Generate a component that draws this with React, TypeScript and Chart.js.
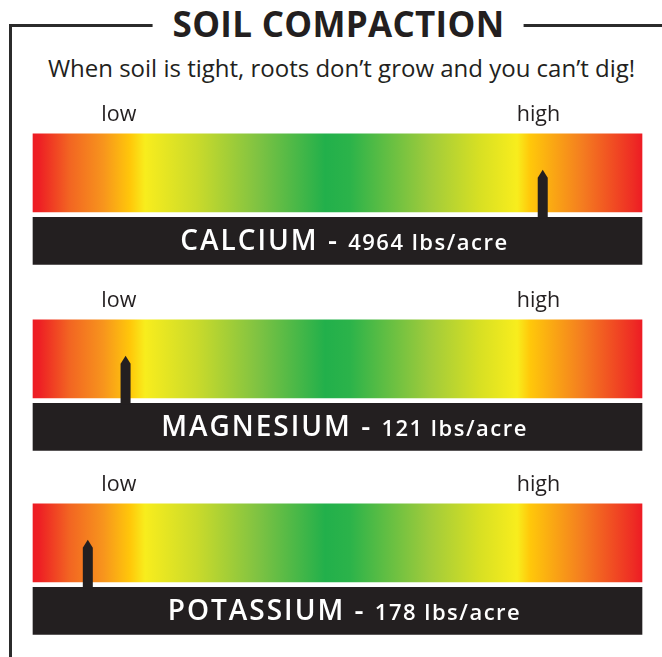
import React, { useEffect, useRef } from "react";
import { Chart, registerables } from "chart.js";

Chart.register(...registerables);

// ---------- data ----------
const TITLE = "SOIL COMPACTION";
const SUBTITLE = "When soil is tight, roots don’t grow and you can’t dig!";
const NUTRIENTS = ["CALCIUM", "MAGNESIUM", "POTASSIUM"];
const AMOUNTS = [4964, 121, 178];
const UNIT = "lbs/acre";
// marker position of each nutrient on the 0–100 gauge
const MARKER_POS = [83.7, 15.2, 9.0];
const SCALE_RANGE = [0, 100];
const TICK_VALUES = [14.1, 83.0];
const TICK_LABELS = ["low", "high"];
const GRADIENT_OFFSETS = [0, 0.012, 0.06, 0.115, 0.16, 0.184, 0.27, 0.368, 0.48, 0.52, 0.65, 0.734, 0.795, 0.816, 0.903, 0.985, 1];
const GRADIENT_COLORS = [
  "#ED1C24", "#EE2224", "#F26522", "#F7941D", "#FFC80A", "#F8ED1D", "#C9DA2B", "#80C342",
  "#22B04B", "#2BB34A", "#9FCB3B", "#D8E023", "#F8ED1D", "#FFC80A", "#F47C20", "#EE2D24", "#ED1C24",
];

const DARK = "#231F20";
const FONT = '"Open Sans", sans-serif';

const gaugePlugin = {
  id: "gaugeMarks",
  afterDatasetsDraw(chart: any, _args: any, opts: any) {
    const ctx = chart.ctx;
    const xs = chart.scales.x;
    const grad = chart.getDatasetMeta(0).data[0] as any;
    const band = chart.getDatasetMeta(1).data[1] as any;
    if (!grad || !band) return;
    const gradTop = grad.y - grad.height / 2;
    const bandTop = band.y - band.height / 2;
    const px = xs.getPixelForValue(opts.value);
    const tip = gradTop + 36;
    const shoulder = tip + 8;
    ctx.save();
    ctx.fillStyle = DARK;
    ctx.beginPath();
    ctx.moveTo(px - 5, bandTop + 1);
    ctx.lineTo(px - 5, shoulder);
    ctx.lineTo(px, tip);
    ctx.lineTo(px + 5, shoulder);
    ctx.lineTo(px + 5, bandTop + 1);
    ctx.closePath();
    ctx.fill();

    // band label
    const name = opts.name + " - ";
    const rest = opts.amount + " " + opts.unit;
    const f1 = `600 28px ${FONT}`;
    const f2 = `600 22px ${FONT}`;
    const ls1 = "2px";
    const ls2 = "1.5px";
    ctx.font = f1;
    ctx.letterSpacing = ls1;
    const w1 = ctx.measureText(name).width;
    ctx.font = f2;
    ctx.letterSpacing = ls2;
    const w2 = ctx.measureText(rest).width;
    const cx = (chart.chartArea.left + chart.chartArea.right) / 2 + 7;
    const start = cx - (w1 + w2) / 2;
    const base = band.y + 9;
    ctx.fillStyle = "#FFFFFF";
    ctx.textBaseline = "alphabetic";
    ctx.textAlign = "left";
    ctx.font = f1;
    ctx.letterSpacing = ls1;
    ctx.fillText(name, start, base);
    ctx.font = f2;
    ctx.letterSpacing = ls2;
    ctx.fillText(rest, start + w1, base);
    ctx.restore();
  },
};

function Gauge({ index, top }: { index: number; top: number }) {
  const ref = useRef<HTMLCanvasElement | null>(null);
  useEffect(() => {
    if (!ref.current) return;
    const gradientFill = (c: any) => {
      const chart = c.chart;
      if (!chart.chartArea) return GRADIENT_COLORS[0];
      const xs = chart.scales.x;
      const g = chart.ctx.createLinearGradient(
        xs.getPixelForValue(SCALE_RANGE[0]), 0, xs.getPixelForValue(SCALE_RANGE[1]), 0
      );
      GRADIENT_OFFSETS.forEach((o, i) => g.addColorStop(o, GRADIENT_COLORS[i]));
      return g;
    };
    const chart = new Chart(ref.current, {
      type: "bar",
      data: {
        labels: ["scale", "band"],
        datasets: [
          {
            data: [[SCALE_RANGE[0], SCALE_RANGE[1]], null] as any,
            backgroundColor: gradientFill as any,
            barThickness: 78,
            grouped: false,
            clip: false as any,
            borderWidth: 0,
          },
          {
            data: [null, [SCALE_RANGE[0], SCALE_RANGE[1]]] as any,
            backgroundColor: DARK,
            barThickness: 47,
            grouped: false,
            clip: false as any,
            borderWidth: 0,
          },
        ],
      },
      options: {
        indexAxis: "y",
        responsive: false,
        maintainAspectRatio: false,
        animation: false,
        layout: { padding: { left: 33, right: 20, top: 0, bottom: 0 } },
        plugins: {
          legend: { display: false },
          tooltip: { enabled: false },
          gaugeMarks: {
            value: MARKER_POS[index],
            name: NUTRIENTS[index],
            amount: AMOUNTS[index],
            unit: UNIT,
          },
        } as any,
        scales: {
          x: {
            type: "linear",
            position: "top",
            min: SCALE_RANGE[0],
            max: SCALE_RANGE[1],
            grid: { display: false, drawTicks: false, tickLength: 0 },
            border: { display: false },
            afterBuildTicks: (scale: any) => {
              scale.ticks = TICK_VALUES.map((v) => ({ value: v }));
            },
            ticks: {
              autoSkip: false,
              maxRotation: 0,
              padding: 11,
              color: DARK,
              font: { family: FONT, size: 21.5, weight: 500 as any },
              callback: (_v: any, i: number) => TICK_LABELS[i],
            },
          },
          y: {
            type: "category",
            display: false,
            offset: true,
          },
        },
      },
      plugins: [gaugePlugin],
    });
    return () => chart.destroy();
  }, [index]);
  return (
    <canvas
      ref={ref}
      width={662}
      height={184}
      style={{ position: "absolute", left: 0, top, width: 662, height: 184 }}
    />
  );
}

export default function App() {
  const lineColor = "#2b2b2b";
  return (
    <div
      style={{
        position: "absolute",
        left: 0,
        top: 0,
        width: 662,
        height: 657,
        background: "#fff",
        overflow: "hidden",
        fontFamily: FONT,
        color: DARK,
      }}
    >
      <div style={{ position: "absolute", left: 9, top: 23.5, width: 653, height: 3, background: lineColor }} />
      <div style={{ position: "absolute", left: 9, top: 23.5, width: 3, height: 640, background: lineColor }} />
      <div
        style={{
          position: "absolute",
          left: 338,
          top: 6,
          transform: "translateX(-50%)",
          background: "#fff",
          padding: "0 19px 0 20px",
          fontSize: 35,
          lineHeight: "35px",
          fontWeight: 700,
          letterSpacing: "0.3px",
          whiteSpace: "nowrap",
        }}
      >
        {TITLE}
      </div>
      <div
        style={{
          position: "absolute",
          left: 341.5,
          top: 56,
          transform: "translateX(-50%)",
          fontSize: 24,
          lineHeight: "24px",
          whiteSpace: "nowrap",
        }}
      >
        {SUBTITLE}
      </div>
      {NUTRIENTS.map((n, i) => (
        <Gauge key={n} index={i} top={[91, 277, 461][i]} />
      ))}
    </div>
  );
}
